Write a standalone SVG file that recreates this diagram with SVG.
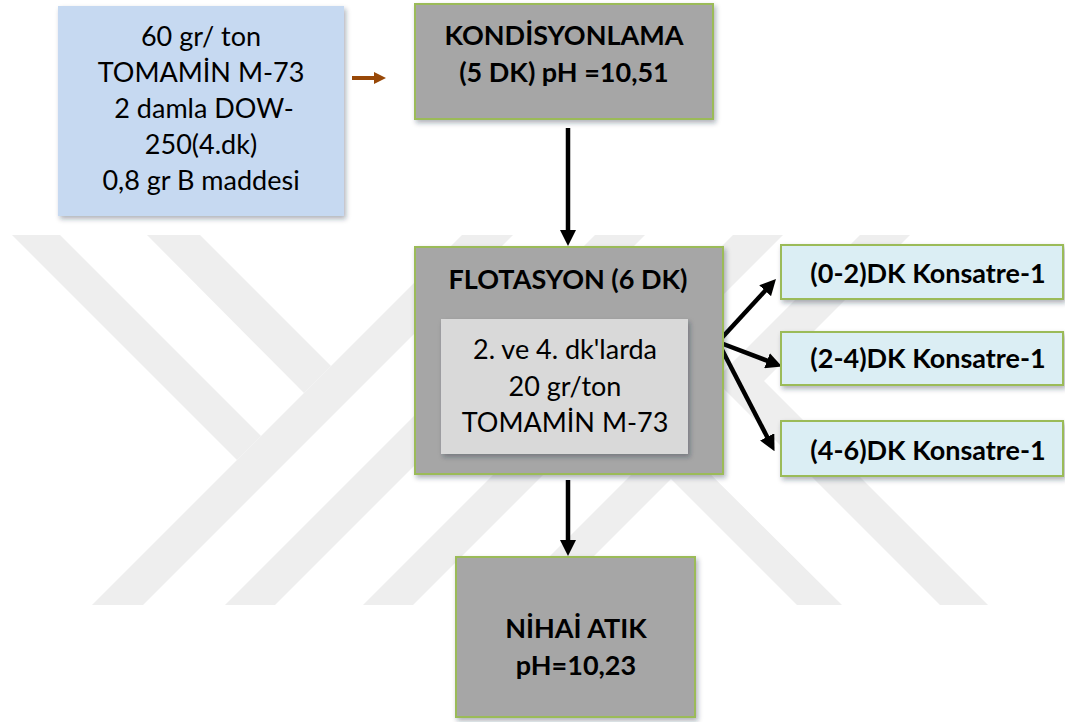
<svg xmlns="http://www.w3.org/2000/svg" width="1065" height="722" viewBox="0 0 1065 722">
  <defs>
    <style>
      .mark { fill: #eeeeee; }
      .proc { fill: #a6a6a6; stroke: #9bbb59; stroke-width: 2; }
      .note { fill: #d9d9d9; }
      .feed { fill: #c6d9f1; }
      .out  { fill: #dbeef4; stroke: #9bbb59; stroke-width: 2; }
      .t    { font-family: Lato, "Open Sans", "Liberation Sans", sans-serif; font-size: 27px; fill: #000; text-anchor: middle; }
      .b    { font-weight: bold; }
      .flow { stroke: #000; stroke-width: 4.5; fill: none; marker-end: url(#head); }
      .feedline { stroke: #984807; stroke-width: 4; fill: none; marker-end: url(#headBrown); }
    </style>
    <marker id="head" viewBox="0 0 16 16" refX="2" refY="8" markerWidth="16" markerHeight="16" markerUnits="userSpaceOnUse" orient="auto">
      <path d="M0,0 L16,8 L0,16 z" fill="#000"/>
    </marker>
    <marker id="headBrown" viewBox="0 0 12 12" refX="2" refY="6" markerWidth="12" markerHeight="12" markerUnits="userSpaceOnUse" orient="auto">
      <path d="M0,0 L12,6 L0,12 z" fill="#984807"/>
    </marker>
    <filter id="shadow" x="-10%" y="-10%" width="125%" height="130%">
      <feDropShadow dx="2" dy="3" stdDeviation="2.5" flood-color="#1f2a3a" flood-opacity="0.35"/>
    </filter>
    <clipPath id="band">
      <rect x="0" y="235" width="1065" height="370"/>
    </clipPath>
  </defs>

  <rect width="1065" height="722" fill="#ffffff"/>

  <!-- faint background emblem -->
  <g id="emblem" clip-path="url(#band)">
    <polygon class="mark" points="12,235 60,235 261,436 237,460"/>
    <polygon class="mark" points="147,235 200,235 331,366 304,393"/>
    <polygon class="mark" points="92,605 143,605 513,235 462,235"/>
    <polygon class="mark" points="225,605 275,605 645,235 595,235"/>
    <polygon class="mark" points="363,605 413,605 783,235 733,235"/>
    <polygon class="mark" points="671,435 842,605 797,605 671,479 545,605 501,605"/>
    <polygon class="mark" points="860,235 910,235 764,381 988,605 940,605 715,380"/>
  </g>

  <!-- connectors -->
  <g id="connectors">
    <line class="feedline" x1="352" y1="78" x2="376" y2="78"/>
    <line class="flow" x1="568" y1="128" x2="568" y2="232"/>
    <line class="flow" x1="718" y1="342" x2="766.5" y2="289.3"/>
    <line class="flow" x1="718" y1="342" x2="768.9" y2="361.4"/>
    <line class="flow" x1="718" y1="342" x2="768.1" y2="438.7"/>
    <line class="flow" x1="568" y1="480" x2="568" y2="542"/>
  </g>

  <!-- reagent dosage -->
  <g id="reagents">
    <rect class="feed" x="58" y="6" width="286" height="210" filter="url(#shadow)"/>
    <text class="t" x="201" y="46">60 gr/ ton</text>
    <text class="t" x="201" y="82">TOMAMİN M-73</text>
    <text class="t" x="204" y="118">2 damla DOW-</text>
    <text class="t" x="201" y="154">250(4.dk)</text>
    <text class="t" x="201" y="190">0,8 gr B maddesi</text>
  </g>

  <!-- conditioning -->
  <g id="conditioning">
    <rect class="proc" x="415" y="4" width="298" height="115" filter="url(#shadow)"/>
    <text class="t b" x="564" y="45">KONDİSYONLAMA</text>
    <text class="t b" x="564" y="82">(5 DK) pH =10,51</text>
  </g>

  <!-- flotation -->
  <g id="flotation">
    <rect class="proc" x="415" y="247" width="308" height="227" filter="url(#shadow)"/>
    <text class="t b" x="568" y="289">FLOTASYON (6 DK)</text>
    <rect class="note" x="441" y="319" width="247" height="135" filter="url(#shadow)"/>
    <text class="t" x="565" y="359">2. ve 4. dk'larda</text>
    <text class="t" x="565" y="396">20 gr/ton</text>
    <text class="t" x="565" y="432">TOMAMİN M-73</text>
  </g>

  <!-- concentrates -->
  <g id="concentrate-1">
    <rect class="out" x="781" y="245" width="282" height="54" filter="url(#shadow)"/>
    <text class="t b" x="928" y="283">(0-2)DK Konsatre-1</text>
  </g>
  <g id="concentrate-2">
    <rect class="out" x="781" y="332" width="282" height="53" filter="url(#shadow)"/>
    <text class="t b" x="928" y="368">(2-4)DK Konsatre-1</text>
  </g>
  <g id="concentrate-3">
    <rect class="out" x="781" y="421" width="282" height="55" filter="url(#shadow)"/>
    <text class="t b" x="928" y="460">(4-6)DK Konsatre-1</text>
  </g>

  <!-- final tailings -->
  <g id="tailings">
    <rect class="proc" x="456" y="557" width="239" height="160" filter="url(#shadow)"/>
    <text class="t b" x="576" y="638">NİHAİ ATIK</text>
    <text class="t b" x="576" y="675">pH=10,23</text>
  </g>
</svg>
